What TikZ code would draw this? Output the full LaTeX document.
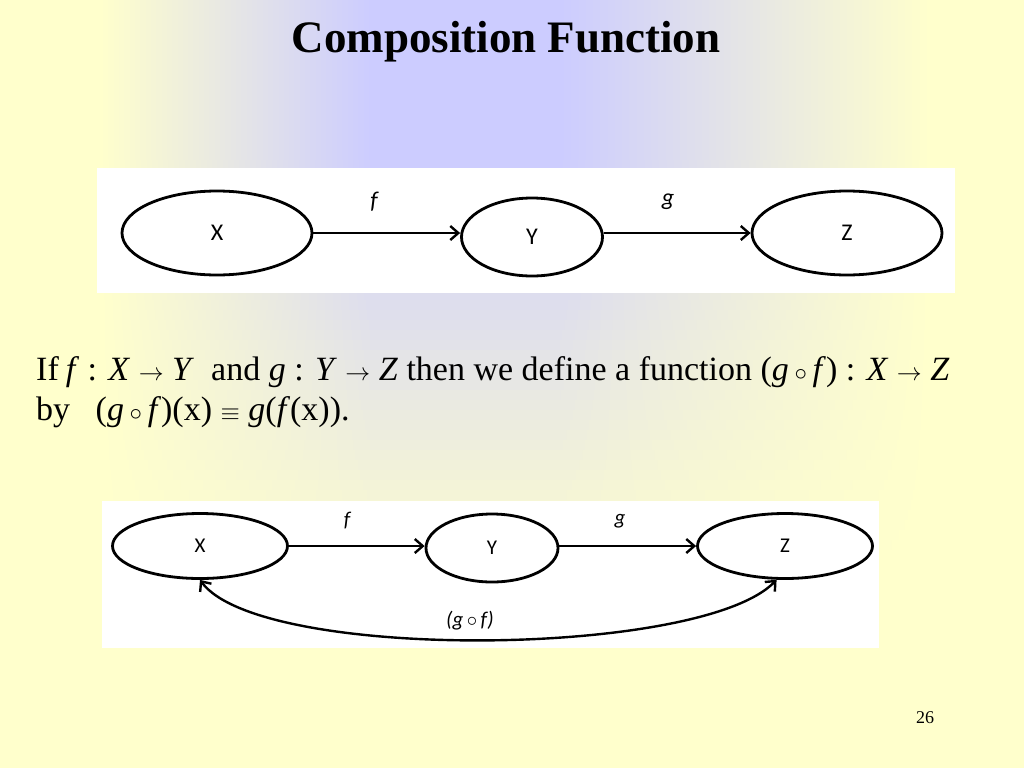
\documentclass[tikz,border=0pt]{standalone}
\usepackage{fontspec}
\setmainfont{Liberation Serif}
\newfontfamily\diagfont{Carlito}
\usetikzlibrary{shapes.geometric,arrows.meta}
\definecolor{bgyellow}{HTML}{FFFFCC}
\definecolor{bgblue}{HTML}{CCCCFF}

\begin{document}
\begin{tikzpicture}[x=1pt, y=-1pt, font=\diagfont\fontsize{24}{28}\selectfont,
    >={Straight Barb[length=8pt, width=14pt]},
    set/.style={ellipse, draw, line width=2.8pt, inner sep=0pt},
    map/.style={line width=2.4pt, ->},
    small/.style={font=\diagfont\fontsize{21}{25}\selectfont},
    body/.style={font=\rmfamily\fontsize{34}{40}\selectfont, anchor=base west, inner sep=0pt}]
    % Background
    \fill[bgyellow] (0,0) rectangle (1024,768);
    \foreach \i in {0,...,55}{
        \pgfmathsetmacro\pc{100*max(0,min(1,(580-10*\i)/430))}
        \colorlet{stripc}{bgblue!\pc!bgyellow}
        \shade[left color=bgyellow, right color=stripc] (100,10*\i) rectangle (371,10*\i+11);
        \fill[stripc] (370,10*\i) rectangle (561,10*\i+11);
        \shade[left color=stripc, right color=bgyellow] (560,10*\i) rectangle (930,10*\i+11);
    }
    \useasboundingbox (0,0) rectangle (1024,768);

    % Title and text
    \node[font=\rmfamily\bfseries\fontsize{45}{54}\selectfont] (title) at (506,42) {Composition Function};
    \node[body] (line1) at (36,380)
        {If\hspace{7pt}\textit{f} : \textit{X} $\rightarrow$ \textit{Y}\ \ and \textit{g} : \textit{Y} $\rightarrow$ \textit{Z}\ then we define a function (\textit{g}\,$\circ$\,\textit{f}) : \textit{X} $\rightarrow$ \textit{Z}};
    \node[body] (line2) at (36,420)
        {by\ \ \ (\textit{g}\,$\circ$\,\textit{f})(x) $\equiv$ \textit{g}(\textit{f}(x)).};
    \node[font=\rmfamily\fontsize{18}{20}\selectfont] (page) at (925,718) {26};

    % First diagram
    \fill[white] (97,168) rectangle (955,293);
    \node[set, minimum width=190pt, minimum height=84pt] (X1) at (217,233) {X};
    \node[set, minimum width=141pt, minimum height=78pt] (Y1) at (532,237) {Y};
    \node[set, minimum width=190pt, minimum height=84pt] (Z1) at (847,233) {Z};
    \node (f1) at (374,202) {\itshape f};
    \node (g1) at (668,202) {\itshape g};
    \draw[map] (X1.east) -- (X1.east -| Y1.west);
    \draw[map] (Z1.west -| Y1.east) -- (Z1.west);

    % Second diagram
    \fill[white] (102,501) rectangle (879,648);
    \node[set, small, minimum width=175pt, minimum height=65pt] (X2) at (200,546) {X};
    \node[set, small, minimum width=132pt, minimum height=68pt] (Y2) at (492,548) {Y};
    \node[set, small, minimum width=175pt, minimum height=65pt] (Z2) at (785,546) {Z};
    \node[small] (f2) at (347,521) {\itshape f};
    \node[small] (g2) at (620,521) {\itshape g};
    \node[small] (gf) at (470,621) {\itshape (g\,$\circ$\,f)};
    \draw[map] (X2.east) -- (X2.east -| Y2.west);
    \draw[map] (Z2.west -| Y2.east) -- (Z2.west);
    \draw[line width=2.4pt, <->]
        (X2.south) .. controls +(60,82) and +(-75,78) .. (Z2.-104);
\end{tikzpicture}
\end{document}
